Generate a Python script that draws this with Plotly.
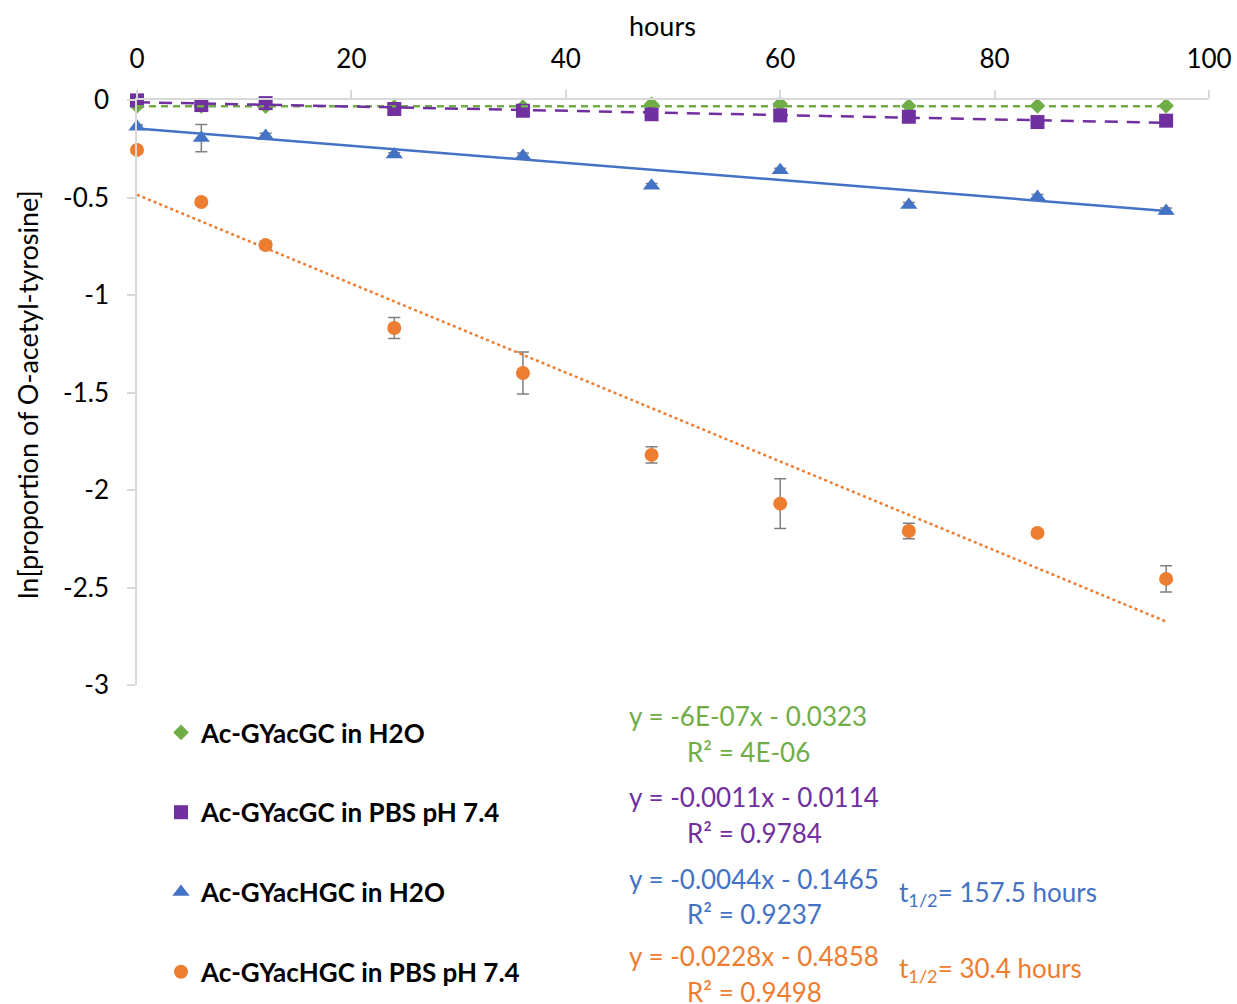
import plotly.graph_objects as go

# Sampling times (hours)
hours = [0, 6, 12, 24, 36, 48, 60, 72, 84, 96]

# ln[proportion of O-acetyl-tyrosine] for each peptide / buffer
gc_h2o = [-0.031, -0.030, -0.032, -0.036, -0.036, -0.022, -0.021, -0.031, -0.030, -0.030]
gc_pbs = [-0.002, -0.026, -0.016, -0.046, -0.055, -0.073, -0.079, -0.086, -0.113, -0.106]
hgc_h2o = [-0.137, -0.195, -0.185, -0.280, -0.287, -0.440, -0.360, -0.538, -0.497, -0.569]
hgc_pbs = [-0.256, -0.523, -0.744, -1.169, -1.400, -1.820, -2.070, -2.210, -2.220, -2.456]

# Standard deviations (error bars)
gc_h2o_err = [0, 0, 0, 0, 0, 0, 0, 0, 0, 0]
gc_pbs_err = [0, 0.025, 0, 0, 0, 0, 0, 0, 0, 0]
hgc_h2o_err = [0.01, 0.07, 0.015, 0.01, 0.015, 0.012, 0.01, 0.012, 0.012, 0.015]
hgc_pbs_err = [0, 0, 0.02, 0.054, 0.108, 0.042, 0.128, 0.04, 0, 0.067]

series_names = ["Ac-GYacGC in H2O", "Ac-GYacGC in PBS pH 7.4",
                "Ac-GYacHGC in H2O", "Ac-GYacHGC in PBS pH 7.4"]
colors = ["#70AD47", "#7030A0", "#4472C4", "#ED7D31"]

# Linear trendline fits (slope, intercept) and their labels
slopes = [-6e-07, -0.0011, -0.0044, -0.0228]
intercepts = [-0.0323, -0.0114, -0.1465, -0.4858]
eq_labels = ["y = -6E-07x - 0.0323", "y = -0.0011x - 0.0114",
             "y = -0.0044x - 0.1465", "y = -0.0228x - 0.4858"]
r2_labels = ["R² = 4E-06", "R² = 0.9784", "R² = 0.9237", "R² = 0.9498"]
half_life_labels = [None, None, "t<sub>1/2</sub>= 157.5 hours", "t<sub>1/2</sub>= 30.4 hours"]

y_tickvals = [0, -0.5, -1, -1.5, -2, -2.5, -3]
y_ticktext = ["0", "-0.5", "-1", "-1.5", "-2", "-2.5", "-3"]

FONT = "Lato"
W, H = 1237, 1004
ML, MR, MT, MB = 137, 28, 100, 319
PW, PH = W - ML - MR, H - MT - MB


def paper_x(px):
    return (px - ML) / PW


def paper_y(py):
    return (H - MB - py) / PH


fig = go.Figure()

all_y = [gc_h2o, gc_pbs, hgc_h2o, hgc_pbs]
all_err = [gc_h2o_err, gc_pbs_err, hgc_h2o_err, hgc_pbs_err]
symbols = ["diamond", "square", "triangle-up", "circle"]
sizes = [12, 14, 15, 14]
dash_styles = ["7px,5px", "13px,9px", "solid", "dot"]

for name, ys, errs, col, sym, sz in zip(series_names, all_y, all_err, colors, symbols, sizes):
    fig.add_trace(go.Scatter(
        x=hours, y=ys, mode="markers", name=name,
        legendgroup=name,
        marker=dict(symbol=sym, size=sz, color=col, line=dict(width=0)),
        error_y=dict(type="data", array=errs, visible=True,
                     color="#7F7F7F", thickness=1.5, width=6),
        cliponaxis=False,
    ))

# Trendlines from the fitted coefficients
x_fit = [hours[0], hours[-1]]
for m, b, col, ds in zip(slopes, intercepts, colors, dash_styles):
    fig.add_trace(go.Scatter(
        x=x_fit, y=[m * xv + b for xv in x_fit], mode="lines",
        line=dict(color=col, width=2.5, dash=ds),
        showlegend=False, hoverinfo="skip", cliponaxis=False,
    ))

annotations = [
    dict(text="hours", x=paper_x(662), y=paper_y(25), xref="paper", yref="paper",
         showarrow=False, xanchor="center", yanchor="middle",
         font=dict(family=FONT, size=27, color="#000000")),
    dict(text="ln[proportion of O-acetyl-tyrosine]", x=paper_x(27), y=paper_y(395),
         xref="paper", yref="paper", showarrow=False, textangle=-90,
         xanchor="center", yanchor="middle",
         font=dict(family=FONT, size=27, color="#000000")),
]

eq_y = [716, 797, 879, 956]
r2_y = [752, 833, 914, 992]
t_y = [None, None, 893, 969]
for i in range(4):
    annotations.append(dict(
        text=eq_labels[i], x=paper_x(627), y=paper_y(eq_y[i]), xref="paper", yref="paper",
        showarrow=False, xanchor="left", yanchor="middle",
        font=dict(family=FONT, size=26, color=colors[i])))
    annotations.append(dict(
        text=r2_labels[i], x=paper_x(685), y=paper_y(r2_y[i]), xref="paper", yref="paper",
        showarrow=False, xanchor="left", yanchor="middle",
        font=dict(family=FONT, size=26, color=colors[i])))
    if half_life_labels[i]:
        annotations.append(dict(
            text=half_life_labels[i], x=paper_x(897), y=paper_y(t_y[i]),
            xref="paper", yref="paper", showarrow=False,
            xanchor="left", yanchor="middle",
            font=dict(family=FONT, size=26, color=colors[i])))

fig.update_layout(
    width=W, height=H,
    margin=dict(l=ML, r=MR, t=MT, b=MB, pad=0, autoexpand=False),
    paper_bgcolor="white", plot_bgcolor="white",
    font=dict(family=FONT, size=26, color="#000000"),
    xaxis=dict(
        range=[0, 100], side="top", tickvals=[0, 20, 40, 60, 80, 100],
        showgrid=False, zeroline=False, automargin=False,
        showline=True, linecolor="#D9D9D9", linewidth=1.5,
        ticks="outside", ticklen=8, tickcolor="#D9D9D9", tickwidth=1.5,
        ticklabelstandoff=12,
        tickfont=dict(family=FONT, size=26, color="#000000"),
    ),
    yaxis=dict(
        range=[-3, 0], tickvals=y_tickvals, ticktext=y_ticktext,
        showgrid=False, zeroline=False, automargin=False,
        showline=True, linecolor="#D9D9D9", linewidth=1.5,
        ticks="outside", ticklen=8, tickcolor="#D9D9D9", tickwidth=1.5,
        ticklabelstandoff=13,
        tickfont=dict(family=FONT, size=26, color="#000000"),
    ),
    legend=dict(
        x=paper_x(161), y=paper_y(709), xanchor="left", yanchor="top",
        traceorder="grouped", tracegroupgap=43, itemwidth=30,
        font=dict(family=FONT, size=26, color="#000000", weight="bold"),
        bgcolor="rgba(0,0,0,0)",
    ),
    annotations=annotations,
    showlegend=True,
)

fig.write_html("out.html")
